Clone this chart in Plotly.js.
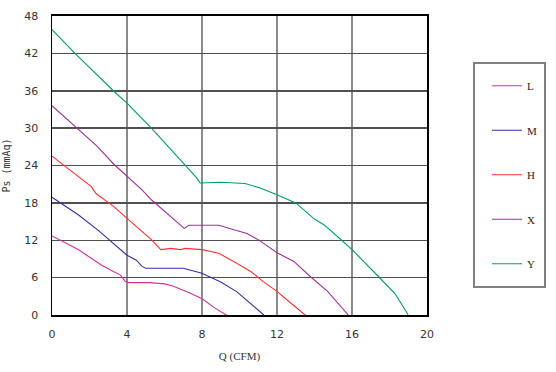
<!DOCTYPE html>
<html>
<head>
<meta charset="utf-8">
<script src="https://cdn.plot.ly/plotly-3.0.1.min.js"></script>
<style>html,body{margin:0;padding:0;background:#fff;}#chart{width:556px;height:372px;}</style>
</head>
<body>
<div id="chart"></div>
<script>
// Series names
const seriesNames = ["L", "M", "H", "X", "Y"];
const seriesColors = ["#cc3399", "#333399", "#ff3333", "#993399", "#00a060"];

// Q (CFM) / Ps (mmAq) readings per curve
const qL = [0, 1.4, 1.85, 2.65, 3.2, 3.65, 3.9, 4.1, 5.2, 6.0, 6.4, 7.3, 8.0, 8.7, 9.3];
const pL = [12.7, 10.5, 9.6, 8.0, 7.1, 6.4, 5.4, 5.2, 5.2, 5.0, 4.7, 3.6, 2.6, 1.1, 0];

const qM = [0, 1.4, 2.5, 3.1, 4.0, 4.5, 4.8, 5.0, 7.0, 8.0, 9.0, 9.85, 10.55, 11.3];
const pM = [18.9, 16.1, 13.5, 12.0, 9.6, 8.8, 7.8, 7.5, 7.5, 6.7, 5.3, 3.75, 1.9, 0];

const qH = [0, 1.4, 2.1, 2.35, 3.3, 4.0, 5.3, 5.8, 6.35, 6.85, 7.1, 8.0, 8.9, 9.85, 10.6, 11.25, 12.0, 12.7, 13.5];
const pH = [25.5, 22.2, 20.6, 19.5, 17.4, 15.5, 12.1, 10.5, 10.7, 10.5, 10.7, 10.5, 9.9, 8.3, 7.0, 5.4, 3.8, 2.0, 0];

const qX = [0, 1.3, 2.4, 3.3, 4.0, 4.8, 5.3, 6.5, 7.05, 7.3, 8.9, 9.7, 10.4, 11.1, 12.0, 12.9, 13.8, 14.7, 15.8];
const pX = [33.6, 30.0, 27.1, 24.2, 22.3, 20.1, 18.5, 15.3, 13.9, 14.4, 14.4, 13.7, 13.1, 11.9, 10.0, 8.6, 6.1, 3.8, 0];

const qY = [0, 1.23, 3.27, 4.0, 5.3, 7.1, 7.72, 7.9, 8.5, 9.0, 10.3, 11.1, 12.0, 13.0, 14.0, 14.5, 15.45, 16.0, 17.5, 18.3, 19.0];
const pY = [45.8, 42.0, 36.0, 34.0, 30.0, 24.0, 22.0, 21.2, 21.3, 21.3, 21.1, 20.4, 19.3, 18.0, 15.4, 14.5, 12.0, 10.5, 5.9, 3.4, 0];

// Axis ticks
const xTicks = [0, 4, 8, 12, 16, 20];
const yTicks = [0, 6, 12, 18, 24, 30, 36, 42, 48];

const qs = [qL, qM, qH, qX, qY];
const ps = [pL, pM, pH, pX, pY];

const traces = seriesNames.map((n, i) => ({
  x: qs[i], y: ps[i], name: n, type: "scatter", mode: "lines",
  legendgroup: n,
  line: {color: seriesColors[i], width: 1.1}
}));

const layout = {
  width: 556, height: 372,
  margin: {l: 52, r: 129, t: 16, b: 57},
  paper_bgcolor: "#fff", plot_bgcolor: "#fff",
  showlegend: true,
  legend: {
    x: 1.16, xanchor: "left", y: 0.815, yanchor: "top",
    borderwidth: 0, bgcolor: "rgba(0,0,0,0)",
    font: {family: "Liberation Serif", size: 11, color: "#222"},
    tracegroupgap: 25.5, traceorder: "grouped"
  },
  shapes: [{
    type: "rect", xref: "paper", yref: "paper",
    x0: 1.1253, x1: 1.3147, y0: 0.0936, y1: 0.8428,
    line: {color: "#808080", width: 2}, fillcolor: "rgba(0,0,0,0)"
  }],
  xaxis: {
    range: [0, 20], tickvals: xTicks, ticktext: xTicks.map(String),
    showgrid: true, gridcolor: "#8a8a8a", gridwidth: 1.5,
    showline: true, linecolor: "#000", linewidth: 2, mirror: true,
    zeroline: false, ticks: "", ticklabelstandoff: 8,
    tickfont: {family: "DejaVu Sans", size: 11, color: "#333"},
    title: {text: "Q (CFM)", font: {family: "Liberation Serif", size: 11, color: "#333"}, standoff: 12}
  },
  yaxis: {
    range: [0, 48], tickvals: yTicks, ticktext: yTicks.map(String),
    showgrid: true, gridcolor: "#505050", gridwidth: 1.5,
    showline: true, linecolor: "#000", linewidth: 1.5, mirror: true,
    zeroline: false, ticks: "", ticklabelstandoff: 10,
    tickfont: {family: "DejaVu Sans", size: 11, color: "#333"},
    title: {text: "Ps (mmAq)", font: {family: "DejaVu Sans Mono", size: 10, color: "#333"}, standoff: 12}
  }
};

Plotly.newPlot("chart", traces, layout, {displayModeBar: false, staticPlot: true});
</script>
</body>
</html>
